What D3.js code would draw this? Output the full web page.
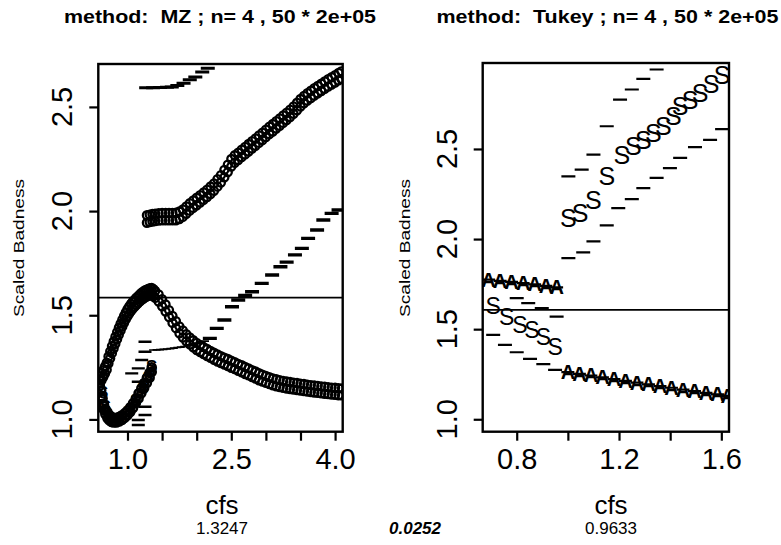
<!DOCTYPE html>
<html><head><meta charset="utf-8">
<script src="https://cdn.jsdelivr.net/npm/d3@7"></script>
<style>body{margin:0;background:#fff}svg{display:block}text{font-family:"Liberation Sans",Arial,sans-serif}</style>
</head><body><svg id="c" width="781" height="545"></svg>
<script>
// ---------------- DATA ----------------
const titles = ["method:  MZ ; n= 4 , 50 * 2e+05", "method:  Tukey ; n= 4 , 50 * 2e+05"];
const yLabel = "Scaled Badness";
const xLabel = "cfs";
const subLeft = "1.3247", subMid = "0.0252", subRight = "0.9633";
const yTicksL = [1.0, 1.5, 2.0, 2.5], yTickLabL = ["1.0", "1.5", "2.0", "2.5"];
const xTicksL = [1.0, 1.5, 2.0, 2.5, 3.0, 3.5, 4.0], xTickLabL = ["1.0", "", "", "2.5", "", "", "4.0"];
const yTicksR = [1.0, 1.5, 2.0, 2.5], yTickLabR = ["1.0", "1.5", "2.0", "2.5"];
const xTicksR = [0.8, 1.0, 1.2, 1.4, 1.6], xTickLabR = ["0.8", "", "1.2", "", "1.6"];
const hLineL = 1.585, hLineR = 1.607;

// left panel: upper circle series (two rows)
const xUpL = [1.28,1.32,1.36,1.40,1.45,1.50,1.55,1.60,1.65,1.70,1.75,1.80,1.85,1.90,1.95,2.00,2.05,2.10,2.15,2.20,2.25,2.30,2.35,2.40,2.45,2.50,2.55,2.60,2.65,2.70,2.75,2.80,2.85,2.90,2.95,3.00,3.05,3.10,3.15,3.20,3.25,3.30,3.35,3.40,3.45,3.50,3.55,3.60,3.65,3.70,3.75,3.80,3.85,3.90,3.95,4.00,4.05,4.09];
const upL1 = [1.980,1.983,1.986,1.988,1.990,1.991,1.991,1.991,1.991,1.992,1.998,2.008,2.023,2.038,2.051,2.064,2.077,2.090,2.103,2.118,2.133,2.153,2.173,2.198,2.223,2.250,2.268,2.281,2.295,2.308,2.322,2.336,2.349,2.363,2.377,2.391,2.405,2.418,2.432,2.445,2.459,2.473,2.487,2.503,2.520,2.538,2.553,2.566,2.578,2.590,2.601,2.612,2.623,2.633,2.643,2.653,2.663,2.671];
const upL2 = [1.944,1.947,1.950,1.952,1.954,1.955,1.955,1.955,1.955,1.956,1.962,1.972,1.987,2.002,2.015,2.028,2.041,2.054,2.067,2.082,2.097,2.117,2.137,2.162,2.187,2.214,2.232,2.245,2.259,2.272,2.286,2.300,2.313,2.327,2.341,2.355,2.369,2.382,2.396,2.409,2.423,2.437,2.451,2.467,2.484,2.502,2.517,2.530,2.542,2.554,2.565,2.576,2.587,2.597,2.607,2.617,2.627,2.635];

// left panel: peaked circle band (two rows)
const xBandL = [0.600,0.625,0.650,0.675,0.700,0.725,0.750,0.775,0.800,0.825,0.850,0.875,0.900,0.925,0.950,0.975,1.000,1.025,1.050,1.075,1.100,1.125,1.150,1.175,1.200,1.225,1.250,1.275,1.300,1.325,1.350,1.375,1.400,1.450,1.500,1.550,1.600,1.650,1.700,1.750,1.800,1.850,1.900,1.950,2.000,2.050,2.100,2.150,2.200,2.250,2.300,2.350,2.400,2.450,2.500,2.550,2.600,2.650,2.700,2.750,2.800,2.850,2.900,2.950,3.000,3.050,3.100,3.150,3.200,3.250,3.300,3.350,3.400,3.450,3.500,3.550,3.600,3.650,3.700,3.750,3.800,3.850,3.900,3.950,4.000,4.050,4.100];
const bandHi = [1.207,1.222,1.237,1.254,1.272,1.302,1.327,1.352,1.374,1.397,1.419,1.440,1.460,1.479,1.497,1.514,1.529,1.542,1.554,1.565,1.574,1.583,1.591,1.599,1.607,1.613,1.619,1.623,1.627,1.630,1.631,1.625,1.617,1.600,1.577,1.552,1.525,1.497,1.472,1.447,1.427,1.409,1.394,1.380,1.367,1.357,1.347,1.338,1.329,1.320,1.312,1.304,1.297,1.290,1.282,1.275,1.267,1.260,1.252,1.245,1.237,1.230,1.222,1.215,1.209,1.203,1.197,1.193,1.189,1.185,1.182,1.180,1.177,1.175,1.172,1.170,1.167,1.165,1.163,1.161,1.159,1.157,1.155,1.153,1.152,1.150,1.149];
const bandLo = [1.173,1.188,1.203,1.220,1.238,1.268,1.293,1.318,1.340,1.363,1.385,1.406,1.426,1.445,1.463,1.480,1.495,1.508,1.520,1.531,1.540,1.549,1.557,1.565,1.573,1.579,1.585,1.589,1.593,1.596,1.597,1.591,1.583,1.566,1.543,1.518,1.491,1.463,1.438,1.413,1.393,1.375,1.360,1.346,1.333,1.323,1.313,1.304,1.295,1.286,1.278,1.270,1.263,1.256,1.248,1.241,1.233,1.226,1.218,1.211,1.203,1.196,1.188,1.181,1.175,1.169,1.163,1.159,1.155,1.151,1.148,1.146,1.143,1.141,1.138,1.136,1.133,1.131,1.129,1.127,1.125,1.123,1.121,1.119,1.118,1.116,1.115];

// left panel: U-shaped loop (circles) and S points
const xLoopL = [0.60,0.62,0.64,0.66,0.68,0.71,0.74,0.77,0.80,0.84,0.88,0.92,0.96,1.00,1.04,1.08,1.12,1.16,1.20,1.24,1.28,1.32,1.35];
const loopA = [1.19,1.14,1.10,1.07,1.05,1.035,1.02,1.012,1.008,1.008,1.012,1.02,1.03,1.043,1.058,1.078,1.10,1.125,1.15,1.175,1.20,1.225,1.25];
const loopB = [1.16,1.11,1.075,1.045,1.025,1.005,0.995,0.988,0.985,0.985,0.99,0.997,1.008,1.02,1.035,1.055,1.078,1.10,1.125,1.15,1.175,1.20,1.228];
const xSL = [0.64,0.68,0.74,0.82,0.92,1.02,1.12,1.22,1.30,1.35];
const ySL = [1.13,1.06,1.01,0.995,1.005,1.04,1.09,1.15,1.20,1.255];

// left panel: dash series
const xDashLowL = [1.253,1.253,1.205,1.156,1.061,1.156,1.253,1.253,1.156,1.156];
const yDashLowL = [1.373,1.325,1.285,1.245,1.221,1.181,1.061,1.021,0.997,0.973];
const xDashLineL = [1.37,1.42,1.47,1.52,1.57,1.62,1.67,1.72,1.77,1.82,1.87,1.92,1.97,2.02,2.07,2.12];
const yDashLineL = [1.333,1.334,1.335,1.336,1.338,1.340,1.342,1.345,1.347,1.350,1.353,1.356,1.360,1.365,1.370,1.376];
const xDashMidL = [2.19,2.29,2.40,2.51,2.60,2.70,2.80,2.94,3.09,3.21,3.30,3.42,3.52,3.61,3.74,3.83,3.95,4.05];
const yDashMidL = [1.389,1.437,1.477,1.541,1.573,1.595,1.613,1.653,1.693,1.733,1.755,1.790,1.821,1.869,1.909,1.957,1.989,2.005];
const xDashTopL = [1.27,1.37,1.47,1.57,1.64,1.72,1.81,1.90,1.98,2.08,2.16,2.25];
const yDashTopL = [2.592,2.592,2.593,2.594,2.596,2.603,2.614,2.630,2.643,2.667,2.686,2.71];

// right panel: S series (upper) with bounds
const xSUpR = [1.002,1.048,1.100,1.152,1.211,1.256,1.295,1.334,1.373,1.412,1.439,1.478,1.517,1.560,1.603];
const ySUpR = [2.117,2.144,2.218,2.348,2.468,2.514,2.552,2.589,2.626,2.681,2.737,2.770,2.810,2.860,2.910];
const xDashUpR = [1.002,1.054,1.100,1.152,1.204,1.250,1.295,1.347,1.400];
const yDashUpR = [2.348,2.385,2.468,2.626,2.774,2.830,2.889,2.941,2.99];
const xDashLoR = [1.002,1.060,1.100,1.152,1.197,1.250,1.295,1.347,1.399,1.439,1.497,1.556,1.603];
const yDashLoR = [1.894,1.926,1.987,2.076,2.172,2.222,2.283,2.339,2.394,2.450,2.510,2.550,2.610];
// right panel: S series (lower-left) with bounds
const xSLoR = [0.708,0.761,0.813,0.859,0.904,0.950];
const ySLoR = [1.626,1.570,1.524,1.496,1.459,1.403];
const xDashR1 = [0.800,0.845,0.898,0.956];
const yDashR1 = [1.672,1.644,1.617,1.570];
const xDashR2 = [0.708,0.754,0.800,0.852,0.904,0.950];
const yDashR2 = [1.468,1.413,1.372,1.335,1.306,1.274];
// right panel: "A" series
const xAL = [0.690,0.735,0.780,0.825,0.870,0.914,0.956];
const yAL = [1.775,1.768,1.762,1.755,1.748,1.740,1.732];
const xAR = [1.000,1.045,1.090,1.135,1.180,1.225,1.270,1.315,1.360,1.405,1.450,1.495,1.540,1.585,1.625];
const yAR = [1.262,1.252,1.243,1.233,1.223,1.213,1.203,1.194,1.184,1.175,1.165,1.156,1.147,1.138,1.130];

// ---------------- DRAW ----------------
const svg = d3.select("#c");
const L = {x0:98.3, x1:342.7, y0:64, y1:431.7};
const R = {x0:482.7, x1:729, y0:63, y1:431.7};
const xL = d3.scaleLinear().domain([0.578, 4.11]).range([L.x0, L.x1]);
const yL = d3.scaleLinear().domain([0.941, 2.706]).range([L.y1, L.y0]);
const xR = d3.scaleLinear().domain([0.667, 1.630]).range([R.x0, R.x1]);
const yR = d3.scaleLinear().domain([0.931, 2.977]).range([R.y1, R.y0]);

const defs = svg.append("defs");
defs.append("clipPath").attr("id","clipL").append("rect").attr("x",L.x0).attr("y",L.y0).attr("width",L.x1-L.x0).attr("height",L.y1-L.y0);
defs.append("clipPath").attr("id","clipR").append("rect").attr("x",R.x0).attr("y",R.y0).attr("width",R.x1-R.x0).attr("height",R.y1-R.y0);

function zip(xs, ys){ return xs.map((x,i)=>[x, ys[i]]); }
function circles(g, xs, ys, sx, sy, r, sw){
  g.append("g").selectAll("circle").data(zip(xs,ys)).join("circle")
    .attr("cx", d=>sx(d[0])).attr("cy", d=>sy(d[1])).attr("r", r)
    .attr("fill","none").attr("stroke","#000").attr("stroke-width",sw||2.3);
}
function dashes(g, xs, ys, sx, sy, w, sw){
  g.append("g").selectAll("line").data(zip(xs,ys)).join("line")
    .attr("x1", d=>sx(d[0])-w/2).attr("x2", d=>sx(d[0])+w/2)
    .attr("y1", d=>sy(d[1])).attr("y2", d=>sy(d[1]))
    .attr("stroke","#000").attr("stroke-width",sw);
}
function chars(g, xs, ys, sx, sy, ch, size, weight){
  g.append("g").selectAll("text").data(zip(xs,ys)).join("text")
    .attr("x", d=>sx(d[0])).attr("y", d=>sy(d[1]))
    .attr("text-anchor","middle").attr("dominant-baseline","central")
    .attr("font-size", size).attr("font-weight", weight||"normal").text(ch);
}

// ----- left panel marks
const gL = svg.append("g").attr("clip-path","url(#clipL)");
gL.append("line").attr("x1",L.x0).attr("x2",L.x1).attr("y1",yL(hLineL)).attr("y2",yL(hLineL)).attr("stroke","#000").attr("stroke-width",1.8);
circles(gL, xBandL, bandHi, xL, yL, 4);
circles(gL, xBandL, bandLo, xL, yL, 4);
circles(gL, xLoopL, loopA, xL, yL, 4, 2.6);
circles(gL, xLoopL, loopB, xL, yL, 4, 2.6);
chars(gL, xSL, ySL, xL, yL, "S", 17, "bold");
circles(gL, xUpL, upL1, xL, yL, 4);
circles(gL, xUpL, upL2, xL, yL, 4);
dashes(gL, xDashLowL, yDashLowL, xL, yL, 13, 2.4);
dashes(gL, xDashLineL, yDashLineL, xL, yL, 8, 1.6);
dashes(gL, xDashMidL, yDashMidL, xL, yL, 14, 3.4);
dashes(gL, xDashTopL, yDashTopL, xL, yL, 14, 3);

// ----- right panel marks
const gR = svg.append("g").attr("clip-path","url(#clipR)");
gR.append("line").attr("x1",R.x0).attr("x2",R.x1).attr("y1",yR(hLineR)).attr("y2",yR(hLineR)).attr("stroke","#000").attr("stroke-width",1.8);
dashes(gR, xDashUpR, yDashUpR, xR, yR, 14, 2.2);
dashes(gR, xDashLoR, yDashLoR, xR, yR, 14, 2.2);
dashes(gR, xDashR1, yDashR1, xR, yR, 14, 2.2);
dashes(gR, xDashR2, yDashR2, xR, yR, 14, 2.2);
chars(gR, xSUpR, ySUpR, xR, yR, "S", 25);
chars(gR, xSLoR, ySLoR, xR, yR, "S", 23);
chars(gR, xAL, yAL, xR, yR, "A", 20, "bold");
chars(gR, xAR, yAR, xR, yR, "A", 20, "bold");
dashes(gR, xAL, yAL, xR, yR, 13, 2.2);
dashes(gR, xAR, yAR, xR, yR, 13, 2.2);

// ----- frames and axes
function frame(P){
  svg.append("rect").attr("x",P.x0).attr("y",P.y0).attr("width",P.x1-P.x0).attr("height",P.y1-P.y0)
    .attr("fill","none").attr("stroke","#000").attr("stroke-width",2.4);
}
frame(L); frame(R);

function axes(P, sx, sy, xt, xtl, yt, ytl, ylabX, ytlX){
  const ax = svg.append("g").attr("transform",`translate(0,${P.y1})`)
    .call(d3.axisBottom(sx).tickValues(xt).tickSize(9).tickFormat((d,i)=>xtl[i]));
  ax.select(".domain").remove();
  ax.selectAll(".tick line").attr("stroke-width",2.2);
  ax.selectAll(".tick text").attr("font-size",29).attr("font-family","Liberation Sans, Arial").attr("dy",null).attr("y",37);
  const ay = svg.append("g").attr("transform",`translate(${P.x0},0)`)
    .call(d3.axisLeft(sy).tickValues(yt).tickSize(9).tickFormat(""));
  ay.select(".domain").remove();
  ay.selectAll(".tick line").attr("stroke-width",2.2);
  svg.append("g").selectAll("text").data(yt).join("text")
    .attr("transform",(d)=>`translate(${ytlX},${sy(d)}) rotate(-90)`)
    .attr("text-anchor","middle").attr("dominant-baseline","central")
    .attr("font-size",29).text((d,i)=>ytl[i]);
  svg.append("text").attr("transform",`translate(${ylabX},248) rotate(-90)`)
    .attr("text-anchor","middle").attr("dominant-baseline","central")
    .attr("font-size",15).attr("textLength",138).attr("lengthAdjust","spacingAndGlyphs").text(yLabel);
}
axes(L, xL, yL, xTicksL, xTickLabL, yTicksL, yTickLabL, 18, 62);
axes(R, xR, yR, xTicksR, xTickLabR, yTicksR, yTickLabR, 404, 447);

// titles
svg.append("text").attr("x",220).attr("y",23).attr("text-anchor","middle").attr("font-weight","bold")
  .attr("font-size",18).attr("textLength",312).attr("lengthAdjust","spacingAndGlyphs").attr("xml:space","preserve").text(titles[0]);
svg.append("text").attr("x",607.5).attr("y",23).attr("text-anchor","middle").attr("font-weight","bold")
  .attr("font-size",18).attr("textLength",342).attr("lengthAdjust","spacingAndGlyphs").attr("xml:space","preserve").text(titles[1]);

// x labels and sub-values
svg.append("text").attr("x",222).attr("y",514).attr("text-anchor","middle").attr("font-size",26).text(xLabel);
svg.append("text").attr("x",611).attr("y",514).attr("text-anchor","middle").attr("font-size",26).text(xLabel);
svg.append("text").attr("x",222).attr("y",534).attr("text-anchor","middle").attr("font-size",17).text(subLeft);
svg.append("text").attr("x",415).attr("y",534).attr("text-anchor","middle").attr("font-size",17).attr("font-weight","bold").attr("font-style","italic").text(subMid);
svg.append("text").attr("x",611).attr("y",534).attr("text-anchor","middle").attr("font-size",17).text(subRight);
</script></body></html>
